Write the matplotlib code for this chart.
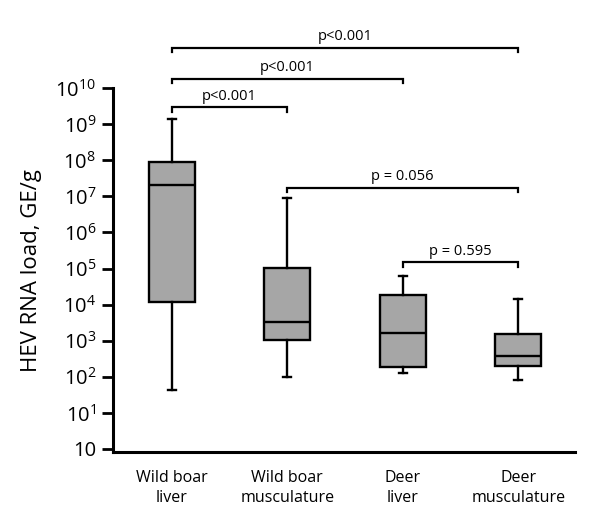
import matplotlib
matplotlib.use("Agg")
import matplotlib.pyplot as plt
import numpy as np

plt.rcParams['font.family'] = ['Open Sans', 'DejaVu Sans']
plt.rcParams['mathtext.fontset'] = 'custom'
plt.rcParams['mathtext.rm'] = 'Open Sans'
plt.rcParams['mathtext.it'] = 'Open Sans'
plt.rcParams['mathtext.bf'] = 'Open Sans'

# Box statistics (GE/g)
groups = ["Wild boar\nliver", "Wild boar\nmusculature", "Deer\nliver", "Deer\nmusculature"]
whis_low = [42, 96, 127, 79]
q1 = [1.2e4, 1.05e3, 182, 195]
median = [2.0e7, 3.4e3, 1.6e3, 370]
q3 = [9.0e7, 1.05e5, 1.8e4, 1.5e3]
whis_high = [1.4e9, 9.0e6, 6.4e4, 1.45e4]

# Significance brackets: (group a, group b, height, label)
pairs_a = [1, 1, 1, 2, 3]
pairs_b = [4, 3, 2, 4, 4]
bracket_y = [10**11.12, 10**10.25, 10**9.47, 10**7.23, 10**5.17]
p_labels = ["p<0.001", "p<0.001", "p<0.001", "p = 0.056", "p = 0.595"]

ytick_exp = list(range(0, 11))
ytick_labels = ["10"] + [r"$10^{%d}$" % e for e in ytick_exp[1:]]

fig = plt.figure(figsize=(6.0, 5.18), dpi=100)
ax = fig.add_axes([0.188, 0.127, 0.77, 0.703])

stats = []
for i in range(len(groups)):
    stats.append({"whislo": whis_low[i], "q1": q1[i], "med": median[i],
                  "q3": q3[i], "whishi": whis_high[i], "fliers": []})

ax.bxp(stats, positions=range(1, len(groups) + 1), widths=0.4, patch_artist=True,
       showfliers=False, capwidths=0.07,
       boxprops=dict(facecolor="#a6a6a6", edgecolor="black", linewidth=1.7),
       medianprops=dict(color="black", linewidth=1.7),
       whiskerprops=dict(color="black", linewidth=1.7),
       capprops=dict(color="black", linewidth=1.7))

ax.set_yscale("log")
ax.set_ylim(10**-0.09, 1e10)
ax.set_xlim(0.49, 4.49)
ax.set_yticks([10.0**e for e in ytick_exp])
ax.set_yticklabels(ytick_labels, fontsize=14.5)
ax.yaxis.set_minor_locator(matplotlib.ticker.NullLocator())
ax.set_xticks(range(1, len(groups) + 1))
ax.set_xticklabels(groups, fontsize=11.5, linespacing=1.3)
ax.tick_params(axis="x", length=0, pad=13)
ax.tick_params(axis="y", length=8, width=2, pad=4)
for s in ["top", "right"]:
    ax.spines[s].set_visible(False)
for s in ["left", "bottom"]:
    ax.spines[s].set_linewidth(2.2)
ax.set_ylabel("HEV RNA load, GE/g", fontsize=16, labelpad=10)

# brackets
for a, b, y, lab in zip(pairs_a, pairs_b, bracket_y, p_labels):
    drop = y / 10**0.12
    ax.plot([a, a, b, b], [drop, y, y, drop], color="black", lw=1.6,
            clip_on=False, solid_joinstyle="miter")
    ax.text((a + b) / 2, y * 10**0.1, lab, ha="center", va="bottom",
            fontsize=10.5)

fig.savefig("out.png", dpi=100)
